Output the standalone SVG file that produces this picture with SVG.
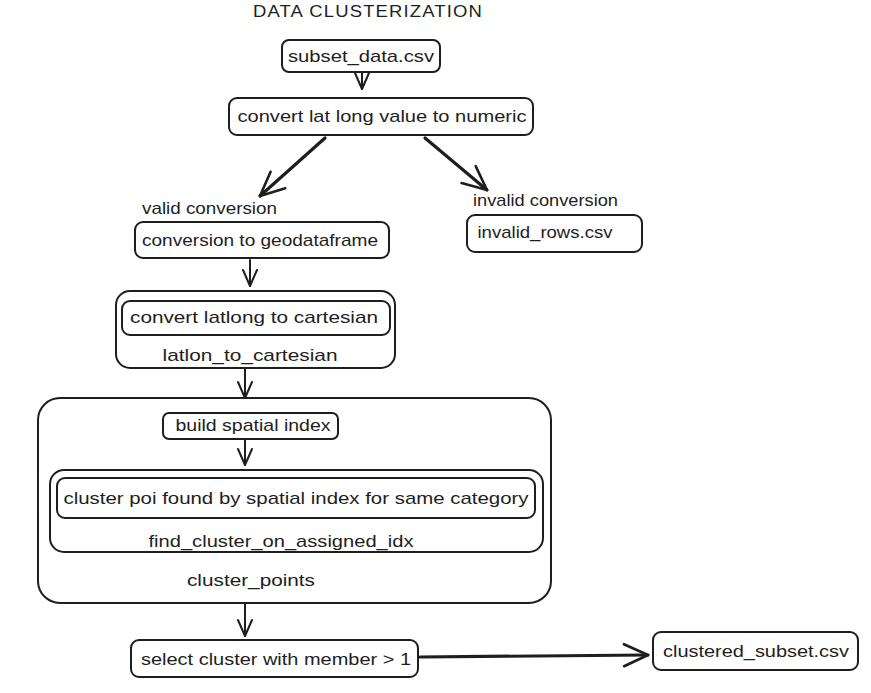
<svg xmlns="http://www.w3.org/2000/svg" width="871" height="693" viewBox="0 0 871 693">
  <style>
    .box { fill: none; stroke: #1e1e1e; stroke-width: 2; stroke-linejoin: round; }
    .lbl { font-family: "Liberation Sans", "DejaVu Sans", sans-serif; font-size: 17px; fill: #1e1e1e; text-anchor: middle; dominant-baseline: central; }
    .free { text-anchor: start; }
    .title { font-family: "Liberation Sans", "DejaVu Sans", sans-serif; font-size: 16px; fill: #1e1e1e; letter-spacing: 1px; }
    .edge { fill: none; stroke: #1e1e1e; stroke-width: 2; stroke-linecap: round; }
    .bold { stroke-width: 3.2; }
  </style>
  <defs>
    <marker id="head" viewBox="0 0 20 20" refX="18" refY="10" markerWidth="20" markerHeight="20" markerUnits="userSpaceOnUse" orient="auto">
      <polyline points="2,3 18,10 2,17" fill="none" stroke="#1e1e1e" stroke-width="2" stroke-linecap="round" stroke-linejoin="round"/>
    </marker>
    <marker id="headBig" viewBox="0 0 30 30" refX="27" refY="15" markerWidth="30" markerHeight="30" markerUnits="userSpaceOnUse" orient="auto">
      <polyline points="3,4 27,15 3,26" fill="none" stroke="#1e1e1e" stroke-width="2.6" stroke-linecap="round" stroke-linejoin="round"/>
    </marker>
  </defs>

  <rect width="871" height="693" fill="#ffffff"/>

  <text class="title" x="253" y="17" textLength="230" lengthAdjust="spacingAndGlyphs">DATA CLUSTERIZATION</text>

  <!-- connectors -->
  <g id="connectors">
    <path class="edge" d="M362 73 L362 89" marker-end="url(#head)"/>
    <path class="edge bold" d="M325 138 L260 196" marker-end="url(#headBig)"/>
    <path class="edge bold" d="M425 138 L487 190" marker-end="url(#headBig)"/>
    <path class="edge" d="M250 260 L250 286" marker-end="url(#head)"/>
    <path class="edge" d="M245 369 L245 398" marker-end="url(#head)"/>
    <path class="edge" d="M245 440 L245 465" marker-end="url(#head)"/>
    <path class="edge" d="M245 604 L245 636" marker-end="url(#head)"/>
    <path class="edge bold" d="M420 657 L648 655" marker-end="url(#headBig)"/>
  </g>

  <g id="subset-data">
    <rect class="box" x="282" y="40" width="158" height="32" rx="7"/>
    <text class="lbl" x="361" y="56" textLength="146" lengthAdjust="spacingAndGlyphs">subset_data.csv</text>
  </g>

  <g id="convert-numeric">
    <rect class="box" x="229" y="98" width="304" height="37" rx="8"/>
    <text class="lbl" x="382" y="116" textLength="289" lengthAdjust="spacingAndGlyphs">convert lat long value to numeric</text>
  </g>

  <g id="valid-label">
    <text class="lbl free" x="142" y="208" textLength="135" lengthAdjust="spacingAndGlyphs">valid conversion</text>
  </g>
  <g id="invalid-label">
    <text class="lbl free" x="473" y="200" textLength="145" lengthAdjust="spacingAndGlyphs">invalid conversion</text>
  </g>

  <g id="geodataframe">
    <rect class="box" x="135" y="222" width="254" height="36" rx="8"/>
    <text class="lbl" x="260" y="240" textLength="236" lengthAdjust="spacingAndGlyphs">conversion to geodataframe</text>
  </g>

  <g id="invalid-rows">
    <rect class="box" x="467" y="215" width="175" height="37" rx="8"/>
    <text class="lbl" x="545" y="232" textLength="135" lengthAdjust="spacingAndGlyphs">invalid_rows.csv</text>
  </g>

  <g id="latlon-to-cartesian">
    <rect class="box" x="116" y="291" width="279" height="77" rx="14"/>
    <rect class="box" x="122" y="301" width="268" height="34" rx="8"/>
    <text class="lbl" x="254" y="317" textLength="248" lengthAdjust="spacingAndGlyphs">convert latlong to cartesian</text>
    <text class="lbl" x="250" y="355" textLength="175" lengthAdjust="spacingAndGlyphs">latlon_to_cartesian</text>
  </g>

  <g id="cluster-points">
    <rect class="box" x="38" y="398" width="513" height="205" rx="22"/>
    <text class="lbl" x="251" y="580" textLength="128" lengthAdjust="spacingAndGlyphs">cluster_points</text>
  </g>

  <g id="build-spatial-index">
    <rect class="box" x="163" y="413" width="175" height="26" rx="6"/>
    <text class="lbl" x="253" y="425" textLength="155" lengthAdjust="spacingAndGlyphs">build spatial index</text>
  </g>

  <g id="find-cluster">
    <rect class="box" x="50" y="470" width="493" height="82" rx="14"/>
    <rect class="box" x="57" y="478" width="478" height="40" rx="8"/>
    <text class="lbl" x="296" y="498" textLength="465" lengthAdjust="spacingAndGlyphs">cluster poi found by spatial index for same category</text>
    <text class="lbl" x="281" y="541" textLength="265" lengthAdjust="spacingAndGlyphs">find_cluster_on_assigned_idx</text>
  </g>

  <g id="select-cluster">
    <rect class="box" x="131" y="640" width="287" height="37" rx="8"/>
    <text class="lbl" x="276" y="659" textLength="270" lengthAdjust="spacingAndGlyphs">select cluster with member &gt; 1</text>
  </g>

  <g id="clustered-subset">
    <rect class="box" x="653" y="632" width="205" height="38" rx="8"/>
    <text class="lbl" x="756" y="651" textLength="186" lengthAdjust="spacingAndGlyphs">clustered_subset.csv</text>
  </g>
</svg>
